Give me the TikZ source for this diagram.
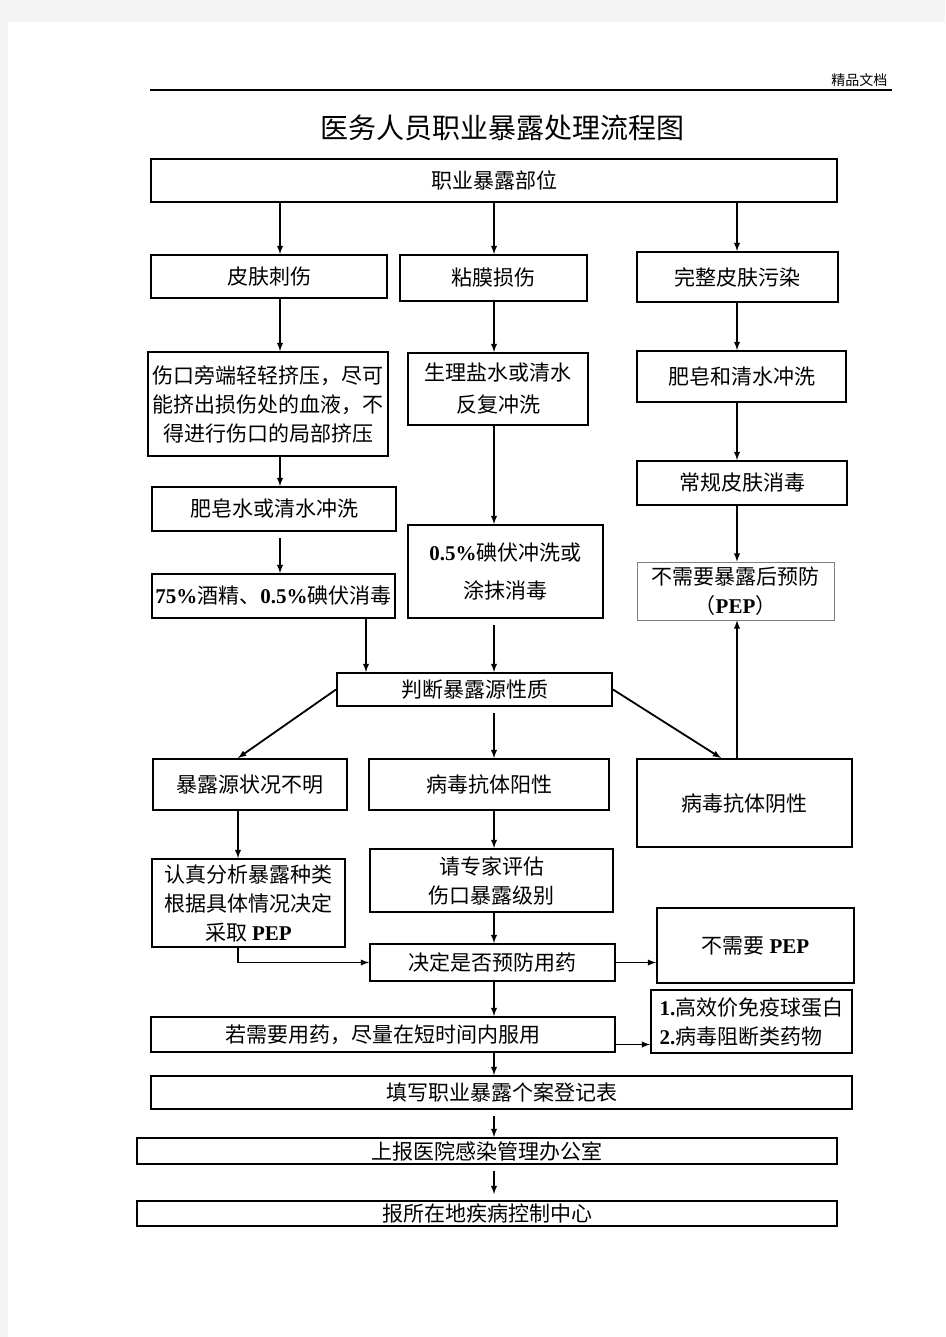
\documentclass[tikz,border=0pt]{standalone}
\usepackage{fontspec}
\setmainfont{Noto Sans CJK SC}
\newfontfamily\latinbf{Liberation Serif}
\newcommand{\en}[1]{{\latinbf\bfseries #1}}
\definecolor{pagegray}{HTML}{F4F4F4}
\tikzset{
every node/.style={font=\fontsize{21}{29}\selectfont}, % body text of the chart
box/.style={draw, line width=2pt, align=center, inner sep=1pt}, % the framed steps
softbox/.style={draw=gray, line width=0.9pt, align=center, inner sep=1pt}, % the one pale frame
flow/.style={-latex, line width=1.8pt}, % the connectors
}

\begin{document}
\begin{tikzpicture}[x=1pt, y=-1pt]
        % page
        \fill[pagegray] (0,0) rectangle (945,1337);
        \fill[white] (8,22) rectangle (945,1337);
        \useasboundingbox (0,0) rectangle (945,1337);
        \node[anchor=east, font=\fontsize{14}{16}\selectfont] (hdr) at (891,80) {精品文档};
        \draw[line width=1.2pt] (150,90) -- (892,90);
        \node[font=\fontsize{28}{32}\selectfont] (title) at (502,128) {医务人员职业暴露处理流程图};

        % columns of the connectors
        \coordinate (ca) at (280,0);
        \coordinate (cb) at (494,0);
        \coordinate (cc) at (737,0);
        \coordinate (cl) at (238,0);
        \coordinate (cj) at (366,0);
        \coordinate (cn) at (721,0);

        \node[box, minimum width=686, minimum height=43] (pos) at (494,180.5) {职业暴露部位};
        \node[box, minimum width=236, minimum height=43] (skin) at (269,276.5) {皮肤刺伤};
        \node[box, minimum width=187, minimum height=46] (muc) at (493.5,278) {粘膜损伤};
        \node[box, minimum width=201, minimum height=50] (intact) at (737.5,277) {完整皮肤污染};
        \node[box, minimum width=240, minimum height=104] (squeeze) at (268,404)
              {伤口旁端轻轻挤压，尽可\\能挤出损伤处的血液，不\\得进行伤口的局部挤压};
        \node[box, minimum width=180, minimum height=72,
              font=\fontsize{21}{32}\selectfont] (saline) at (498,389) {生理盐水或清水\\反复冲洗};
        \node[box, minimum width=209, minimum height=51] (soapb) at (741.5,376.5) {肥皂和清水冲洗};
        \node[box, minimum width=244, minimum height=44] (soapa) at (274,509) {肥皂水或清水冲洗};
        \node[box, minimum width=210, minimum height=44] (routine) at (742,483) {常规皮肤消毒};
        \node[box, minimum width=195, minimum height=93,
              font=\fontsize{21}{38}\selectfont] (iodine) at (505.5,571.5) {\en{0.5\%}碘伏冲洗或\\涂抹消毒};
        \node[box, minimum width=243, minimum height=44] (alcohol) at (273.5,596)
              {\en{75\%}酒精、\en{0.5\%}碘伏消毒};
        \node[softbox, minimum width=197, minimum height=58] (nopepa) at (735.5,591)
              {不需要暴露后预防\\（\en{PEP}）};
        \node[box, minimum width=275, minimum height=33, inner sep=0pt] (judge) at (474.5,689.5) {判断暴露源性质};
        \node[box, minimum width=194, minimum height=51] (unknown) at (250,784.5) {暴露源状况不明};
        \node[box, minimum width=240, minimum height=51] (positive) at (489,784.5) {病毒抗体阳性};
        \node[box, minimum width=215, minimum height=88] (negative) at (744.5,803) {病毒抗体阴性};
        \node[box, minimum width=193, minimum height=88] (analyse) at (248.5,903)
              {认真分析暴露种类\\根据具体情况决定\\采取 \en{PEP}};
        \node[box, minimum width=243, minimum height=63] (expert) at (491.5,880.5) {请专家评估\\伤口暴露级别};
        \node[box, minimum width=245, minimum height=37, inner sep=0pt] (decide) at (492.5,962.5) {决定是否预防用药};
        \node[box, minimum width=197, minimum height=75] (nopepb) at (755.5,945.5) {不需要 \en{PEP}};
        \node[box, minimum width=201, minimum height=63, align=left] (drugs) at (751.5,1021.5)
              {\en{1.}高效价免疫球蛋白\\\en{2.}病毒阻断类药物};
        \node[box, minimum width=464, minimum height=35, inner sep=0pt] (ifneed) at (383,1034.5)
              {若需要用药，尽量在短时间内服用};
        \node[box, minimum width=701, minimum height=33, inner sep=0pt] (record) at (501.5,1092.5) {填写职业暴露个案登记表};
        \node[box, minimum width=700, minimum height=26, inner sep=0pt] (report) at (487,1151) {上报医院感染管理办公室};
        \node[box, minimum width=700, minimum height=25, inner sep=0pt] (cdc) at (487,1213.5) {报所在地疾病控制中心};

        \path[flow] (pos.south -| ca) edge (skin.north -| ca)
              (pos.south -| cb) edge (muc.north -| cb)
              (pos.south -| cc) edge (intact.north -| cc)
              (skin.south -| ca) edge (squeeze.north -| ca)
              (muc.south -| cb) edge (saline.north -| cb)
              (intact.south -| cc) edge (soapb.north -| cc)
              (squeeze.south -| ca) edge (soapa.north -| ca)
              (soapa.south -| ca) edge[shorten <=6pt] (alcohol.north -| ca)
              (saline.south -| cb) edge (iodine.north -| cb)
              (soapb.south -| cc) edge (routine.north -| cc)
              (routine.south -| cc) edge (nopepa.north -| cc)
              (alcohol.south -| cj) edge (judge.north -| cj)
              (iodine.south -| cb) edge[shorten <=6pt] (judge.north -| cb)
              (judge.west) edge (unknown.north -| cl)
              (judge.south -| cb) edge[shorten <=6pt] (positive.north -| cb)
              (judge.east) edge (negative.north -| cn)
              (negative.north -| cc) edge (nopepa.south -| cc)
              (unknown.south -| cl) edge (analyse.north -| cl)
              (positive.south -| cb) edge (expert.north -| cb)
              (expert.south -| cb) edge (decide.north -| cb)
              (decide.east) edge (decide.east -| nopepb.west)
              (decide.south -| cb) edge (ifneed.north -| cb)
              ([yshift=-10pt]ifneed.east) edge ([yshift=-10pt]ifneed.east -| drugs.west)
              (ifneed.south -| cb) edge (record.north -| cb)
              (record.south -| cb) edge[shorten <=6pt] (report.north -| cb)
              (report.south -| cb) edge[shorten <=6pt, shorten >=6pt] (cdc.north -| cb)
              ;
        \draw[flow] (analyse.south -| cl) |- (decide.west);
\end{tikzpicture}
\end{document}
